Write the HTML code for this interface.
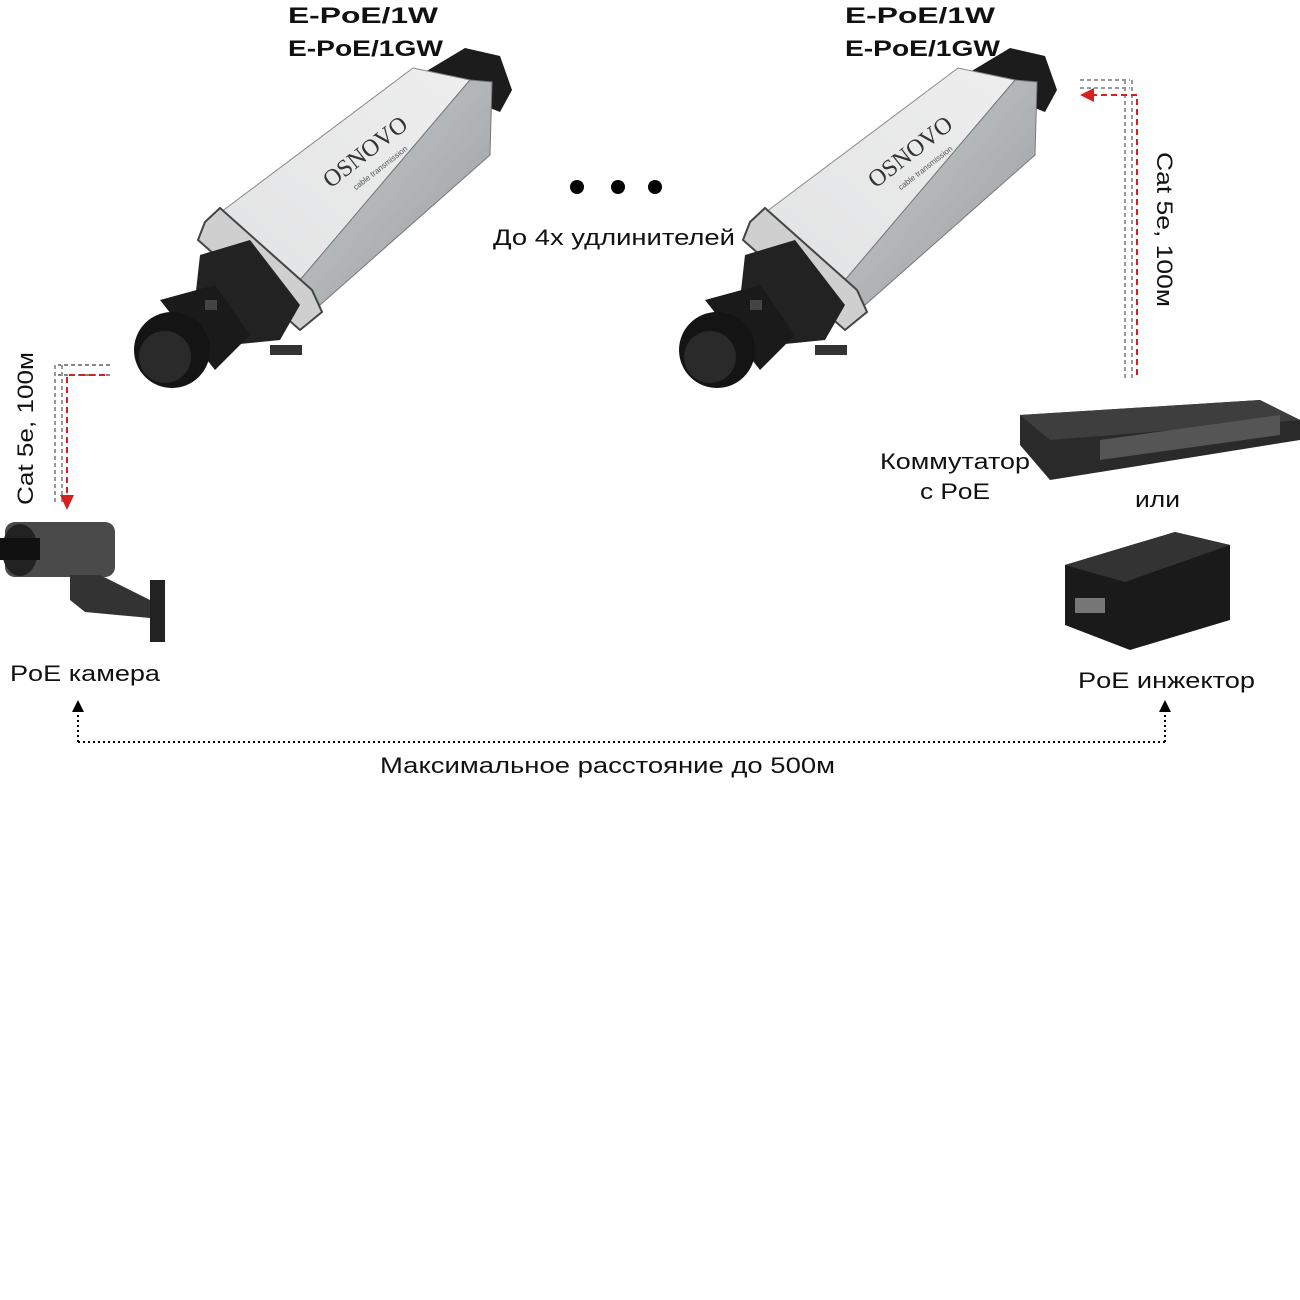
<!DOCTYPE html>
<html><head><meta charset="utf-8"><style>
html,body{margin:0;padding:0;background:#fff;}
svg{display:block;font-family:"Liberation Sans",Arial,sans-serif;}
</style></head><body>
<svg width="1300" height="1300" viewBox="0 0 1300 1300" xmlns="http://www.w3.org/2000/svg">
<defs>
<linearGradient id="top" x1="0" y1="1" x2="1" y2="0">
<stop offset="0" stop-color="#e2e3e4"/><stop offset="1" stop-color="#eeeeee"/>
</linearGradient>
<linearGradient id="side" x1="0" y1="0" x2="1" y2="1">
<stop offset="0" stop-color="#c9cccd"/><stop offset="1" stop-color="#9a9ea0"/>
</linearGradient>
<g id="dev">
  <polygon points="425,72 465,48 500,56 512,90 500,112 470,100" fill="#1c1c1c"/>
  <polygon points="217,215 413,68 470,80 300,280" fill="url(#top)" stroke="#888"/>
  <polygon points="300,280 470,80 492,82 490,155 320,305" fill="url(#side)" stroke="#777"/>
  <polygon points="205,222 220,208 312,290 322,312 300,330 198,240" fill="#cfcfcf" stroke="#444" stroke-width="2"/>
  <text font-size="24" font-family="Liberation Serif,serif" fill="#333" text-anchor="middle" transform="translate(370,158) rotate(-38)">OSNOVO</text>
  <text font-size="8" fill="#555" text-anchor="middle" transform="translate(382,170) rotate(-38)">cable transmission</text>
  <polygon points="200,255 250,240 300,305 280,340 230,345 195,300" fill="#222"/>
  <polygon points="160,300 215,285 250,335 215,370" fill="#1a1a1a"/>
  <circle cx="172" cy="350" r="38" fill="#141414"/>
  <circle cx="165" cy="357" r="26" fill="#2a2a2a"/>
  <rect x="270" y="345" width="32" height="10" fill="#333"/>
  <rect x="205" y="300" width="12" height="10" fill="#444"/>
</g>
</defs>

<g font-size="22" fill="#111">
<text x="288" y="23" font-weight="bold" textLength="150" lengthAdjust="spacingAndGlyphs">E-PoE/1W</text>
<text x="288" y="56" font-weight="bold" textLength="155" lengthAdjust="spacingAndGlyphs">E-PoE/1GW</text>
<text x="845" y="23" font-weight="bold" textLength="150" lengthAdjust="spacingAndGlyphs">E-PoE/1W</text>
<text x="845" y="56" font-weight="bold" textLength="155" lengthAdjust="spacingAndGlyphs">E-PoE/1GW</text>
</g>

<use href="#dev"/>
<use href="#dev" transform="translate(545,0)"/>

<circle cx="577" cy="187" r="7" fill="#000"/>
<circle cx="618" cy="187" r="7" fill="#000"/>
<circle cx="655" cy="187" r="7" fill="#000"/>
<text x="493" y="245" font-size="22" fill="#111" textLength="242" lengthAdjust="spacingAndGlyphs">До 4х удлинителей</text>

<path d="M110,365 H58 M110,375 H58" stroke="#888" stroke-width="2" stroke-dasharray="4,3"/>
<path d="M55,365 V505 M62,365 V505" stroke="#999" stroke-width="2" stroke-dasharray="4,3"/>
<path d="M105,375 H67 V497" stroke="#d62020" stroke-width="2" fill="none" stroke-dasharray="6,4"/>
<polygon points="60,495 74,495 67,510" fill="#d62020"/>
<text transform="translate(33,505) rotate(-90)" font-size="22" fill="#111" textLength="153" lengthAdjust="spacingAndGlyphs">Cat 5e, 100м</text>

<path d="M1125,80 V378 M1132,80 V378" stroke="#999" stroke-width="2" stroke-dasharray="4,3"/>
<path d="M1080,80 H1130 M1080,88 H1130" stroke="#999" stroke-width="2" stroke-dasharray="4,3"/>
<path d="M1137,375 V95 H1092" stroke="#d62020" stroke-width="2" fill="none" stroke-dasharray="6,4"/>
<polygon points="1080,95 1094,88 1094,102" fill="#d62020"/>
<text transform="translate(1157,152) rotate(90)" font-size="22" fill="#111" textLength="155" lengthAdjust="spacingAndGlyphs">Cat 5e, 100м</text>

<rect x="5" y="522" width="110" height="55" rx="10" fill="#4a4a4a"/>
<ellipse cx="20" cy="550" rx="18" ry="26" fill="#222"/>
<rect x="0" y="538" width="40" height="22" fill="#111"/>
<polygon points="70,575 100,575 150,600 150,618 85,612 70,600" fill="#333"/>
<rect x="150" y="580" width="15" height="62" fill="#222"/>
<text x="10" y="681" font-size="22" fill="#111" textLength="150" lengthAdjust="spacingAndGlyphs">PoE камера</text>

<polygon points="1020,415 1260,400 1300,420 1300,440 1050,480 1020,445" fill="#2a2a2a"/>
<polygon points="1020,415 1260,400 1300,420 1050,440" fill="#3e3e3e"/>
<polygon points="1100,440 1280,415 1280,435 1100,460" fill="#555"/>
<text x="880" y="469" font-size="22" fill="#111" textLength="150" lengthAdjust="spacingAndGlyphs">Коммутатор</text>
<text x="920" y="499" font-size="22" fill="#111" textLength="70" lengthAdjust="spacingAndGlyphs">с PoE</text>
<text x="1135" y="507" font-size="22" fill="#111" textLength="45" lengthAdjust="spacingAndGlyphs">или</text>

<polygon points="1065,565 1175,532 1230,545 1230,620 1130,650 1065,625" fill="#1a1a1a"/>
<polygon points="1065,565 1175,532 1230,545 1125,582" fill="#333"/>
<rect x="1075" y="598" width="30" height="15" fill="#777"/>
<text x="1078" y="688" font-size="22" fill="#111" textLength="177" lengthAdjust="spacingAndGlyphs">PoE инжектор</text>

<path d="M78,742 H1165 M78,742 V708 M1165,742 V708" stroke="#000" stroke-width="2" fill="none" stroke-dasharray="2,3"/>
<polygon points="72,712 84,712 78,700" fill="#000"/>
<polygon points="1159,712 1171,712 1165,700" fill="#000"/>
<text x="380" y="773" font-size="22" fill="#111" textLength="455" lengthAdjust="spacingAndGlyphs">Максимальное расстояние до 500м</text>
</svg>
</body></html>
